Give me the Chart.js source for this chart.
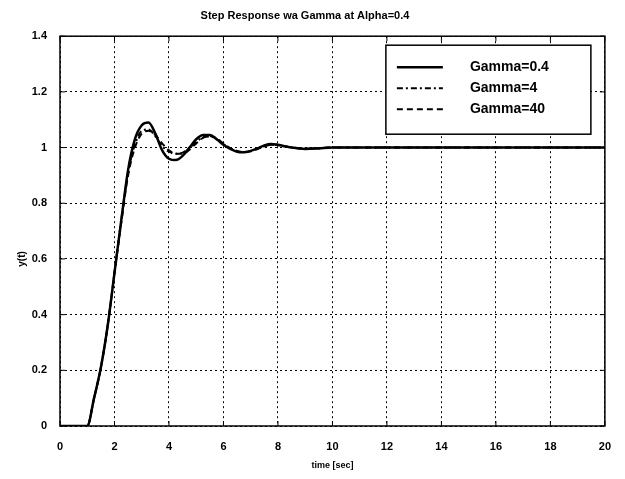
<!DOCTYPE html>
<html>
<head>
<meta charset="utf-8">
<script src="https://cdn.jsdelivr.net/npm/chart.js@4.4.1/dist/chart.umd.min.js"></script>
<style>
  body { margin: 0; background: #fff; }
  #wrap { width: 625px; height: 479px; }
</style>
</head>
<body>
<div id="wrap"><canvas id="stepChart" width="625" height="479"></canvas></div>
<script>
// time axis (sec) and the three step responses
const timeSec = [0, 1, 1.25, 1.5, 1.75, 2, 2.25, 2.5, 2.75, 3, 3.25, 3.5, 3.75, 4, 4.25, 4.5, 4.75, 5, 5.25, 5.5, 5.75, 6, 6.25, 6.5, 6.75, 7, 7.25, 7.5, 7.75, 8, 8.5, 9, 9.5, 10, 11, 12, 14, 16, 18, 20];
const gamma04 = [0, 0, 0.1, 0.21, 0.36, 0.55, 0.74, 0.92, 1.03, 1.08, 1.09, 1.05, 0.99, 0.96, 0.955, 0.97, 1.0, 1.03, 1.045, 1.045, 1.03, 1.01, 0.995, 0.985, 0.983, 0.988, 0.997, 1.008, 1.013, 1.01, 1.0, 0.995, 0.997, 1.0, 1.0, 1.0, 1.0, 1.0, 1.0, 1.0];
const gamma4 = [0, 0, 0.1, 0.21, 0.36, 0.55, 0.74, 0.91, 1.01, 1.06, 1.065, 1.04, 1.005, 0.985, 0.978, 0.982, 0.998, 1.02, 1.037, 1.04, 1.03, 1.012, 0.997, 0.987, 0.984, 0.988, 0.996, 1.005, 1.01, 1.008, 1.0, 0.996, 0.998, 1.0, 1.0, 1.0, 1.0, 1.0, 1.0, 1.0];
const gamma40 = [0, 0, 0.1, 0.21, 0.36, 0.55, 0.73, 0.9, 1.0, 1.05, 1.06, 1.045, 1.015, 0.99, 0.978, 0.978, 0.992, 1.015, 1.035, 1.042, 1.033, 1.015, 0.998, 0.988, 0.984, 0.987, 0.995, 1.004, 1.01, 1.009, 1.001, 0.996, 0.998, 1.0, 1.0, 1.0, 1.0, 1.0, 1.0, 1.0];
const seriesLabels = ["Gamma=0.4", "Gamma=4", "Gamma=40"];

const xTicks = [0, 2, 4, 6, 8, 10, 12, 14, 16, 18, 20];
const yTicks = [0, 0.2, 0.4, 0.6, 0.8, 1, 1.2, 1.4];
const yTickLabels = ["0", "0.2", "0.4", "0.6", "0.8", "1", "1.2", "1.4"];

const FONT = "'Liberation Sans', Arial, sans-serif";

function toPoints(values) {
    return timeSec.map((t, i) => ({ x: t, y: values[i] }));
};

// matlab-ish box, inward ticks, y label and the legend inside the axes
const framePlugin = {
    id: "frame",
    afterDatasetsDraw(chart) {
        const { ctx, chartArea: a, scales } = chart;
        ctx.save();
        ctx.strokeStyle = "#000";
        ctx.lineWidth = 1.5;
        ctx.strokeRect(a.left, a.top, a.right - a.left, a.bottom - a.top);

        ctx.lineWidth = 1;
        ctx.beginPath();
        scales.x.ticks.forEach(t => {
            const px = scales.x.getPixelForValue(t.value);
            ctx.moveTo(px, a.bottom); ctx.lineTo(px, a.bottom - 5);
            ctx.moveTo(px, a.top); ctx.lineTo(px, a.top + 5);
        });
        scales.y.ticks.forEach(t => {
            const py = scales.y.getPixelForValue(t.value);
            ctx.moveTo(a.left, py); ctx.lineTo(a.left + 5, py);
            ctx.moveTo(a.right, py); ctx.lineTo(a.right - 5, py);
        });
        ctx.stroke();

        // y label sits a bit below the middle in the original
        ctx.fillStyle = "#000";
        ctx.font = "bold 10px " + FONT;
        ctx.textAlign = "center";
        ctx.textBaseline = "middle";
        ctx.translate(22, scales.y.getPixelForValue(0.6));
        ctx.rotate(-Math.PI / 2);
        ctx.fillText("y(t)", 0, 0);
        ctx.setTransform(1, 0, 0, 1, 0, 0);

        const box = { left: a.right - 219, top: a.top + 9, w: 205, h: 89 };
        ctx.fillStyle = "#fff";
        ctx.fillRect(box.left, box.top, box.w, box.h);
        ctx.lineWidth = 1.5;
        ctx.strokeRect(box.left, box.top, box.w, box.h);

        ctx.font = "bold 14px " + FONT;
        ctx.textAlign = "left";
        ctx.textBaseline = "middle";
        chart.data.datasets.forEach((ds, i) => {
            const yy = box.top + 22 + i * 21;
            ctx.lineWidth = ds.borderWidth;
            ctx.setLineDash(ds.borderDash || []);
            ctx.beginPath();
            ctx.moveTo(box.left + 11, yy);
            ctx.lineTo(box.left + 57, yy);
            ctx.stroke();
            ctx.setLineDash([]);
            ctx.fillStyle = "#000";
            ctx.fillText(ds.label, box.left + 84, yy);
        });
        ctx.restore();
    }
};

const ctx = document.getElementById("stepChart");

new Chart(ctx, {
    type: "line",
    data: {
        datasets: [
            {
                label: seriesLabels[0],
                data: toPoints(gamma04),
                borderColor: "#000",
                borderWidth: 2.5,
                borderDash: []
            },
            {
                label: seriesLabels[1],
                data: toPoints(gamma4),
                borderColor: "#000",
                borderWidth: 2,
                borderDash: [6, 3, 2, 3]
            },
            {
                label: seriesLabels[2],
                data: toPoints(gamma40),
                borderColor: "#000",
                borderWidth: 2,
                borderDash: [6, 4]
            }
        ]
    },
    options: {
        responsive: false,
        animation: false,
        elements: {
            point: { radius: 0 },
            line: { cubicInterpolationMode: "monotone" }
        },
        layout: {
            padding: { left: 0, right: 15, top: 0, bottom: 0 }
        },
        scales: {
            x: {
                type: "linear",
                min: 0,
                max: 20,
                afterBuildTicks: axis => {
                    axis.ticks = xTicks.map(v => ({ value: v }));
                },
                afterFit: scale => { scale.height = 53; },
                grid: {
                    color: "#000",
                    lineWidth: 1,
                    drawTicks: false
                },
                border: { display: false, dash: [2, 3] },
                ticks: {
                    color: "#000",
                    padding: 14,
                    maxRotation: 0,
                    font: { family: FONT, size: 11, weight: "bold" }
                },
                title: {
                    display: true,
                    text: "time [sec]",
                    color: "#000",
                    padding: { top: 0, bottom: 8 },
                    font: { family: FONT, size: 9, weight: "bold" }
                }
            },
            y: {
                type: "linear",
                min: 0,
                max: 1.4,
                afterBuildTicks: axis => {
                    axis.ticks = yTicks.map(v => ({ value: v }));
                },
                afterFit: scale => { scale.width = 60; },
                grid: {
                    color: "#000",
                    lineWidth: 1,
                    drawTicks: false
                },
                border: { display: false, dash: [2, 3] },
                ticks: {
                    color: "#000",
                    padding: 13,
                    font: { family: FONT, size: 11, weight: "bold" },
                    callback: (value, index) => yTickLabels[index]
                }
            }
        },
        plugins: {
            legend: { display: false },
            tooltip: { enabled: false },
            title: {
                display: true,
                text: "Step Response wa Gamma at Alpha=0.4",
                color: "#000",
                padding: { top: 9, bottom: 14 },
                font: { family: FONT, size: 11, weight: "bold", lineHeight: 1.2 }
            }
        }
    },
    plugins: [framePlugin]
});
</script>
</body>
</html>
